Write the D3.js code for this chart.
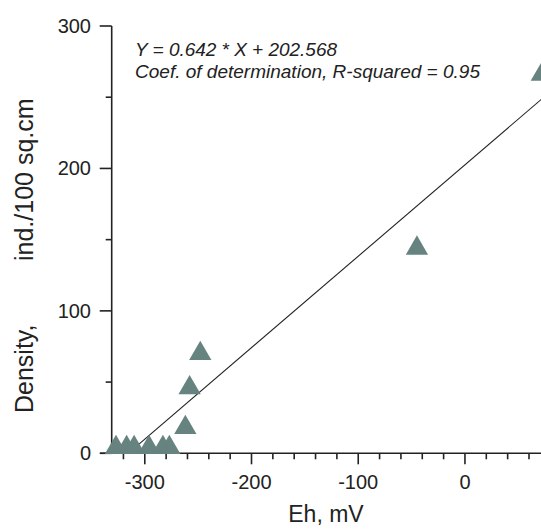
<!DOCTYPE html>
<html>
<head>
<meta charset="utf-8">
<script src="https://cdn.jsdelivr.net/npm/d3@7"></script>
<style>
  body { margin: 0; background: #fff; }
  svg { display: block; font-family: "Liberation Sans", Arial, sans-serif; }
</style>
</head>
<body>
<svg width="541" height="529"></svg>
<script>
// Eh (mV) vs density (ind./100 sq.cm)
var ehValues = [-327, -317, -310, -296, -283, -277, -262, -258, -248, -45, 72];
var densityValues = [4, 4, 4, 4, 4, 4, 18, 46, 70, 144, 266];

var xMajorTicks = [-300, -200, -100, 0];
var xMinorTicks = [-320, -280, -260, -240, -220, -180, -160, -140, -120, -80, -60, -40, -20, 20, 40, 60];
var yMajorTicks = [0, 100, 200, 300];
var yMinorTicks = [50, 150, 250];

var slope = 0.642, intercept = 202.568;
var eqLines = ["Y = 0.642 * X + 202.568", "Coef. of determination, R-squared = 0.95"];

var svg = d3.select("svg");

var x = d3.scaleLinear().domain([-331, 75]).range([111.7, 545]);
var y = d3.scaleLinear().domain([0, 300]).range([453.3, 26]);

// x axis
var xAxis = svg.append("g").attr("class", "x-axis");
xAxis.append("line")
    .attr("x1", 100).attr("x2", 541)
    .attr("y1", y(0)).attr("y2", y(0))
    .attr("stroke", "#222").attr("stroke-width", 1.6);
xAxis.selectAll("line.major")
    .data(xMajorTicks)
    .enter().append("line")
    .attr("class", "major")
    .attr("x1", function(d) { return x(d); })
    .attr("x2", function(d) { return x(d); })
    .attr("y1", y(0)).attr("y2", y(0) + 11)
    .attr("stroke", "#222").attr("stroke-width", 1.6);
xAxis.selectAll("line.minor")
    .data(xMinorTicks)
    .enter().append("line")
    .attr("class", "minor")
    .attr("x1", function(d) { return x(d); })
    .attr("x2", function(d) { return x(d); })
    .attr("y1", y(0)).attr("y2", y(0) + 6)
    .attr("stroke", "#222").attr("stroke-width", 1.6);
xAxis.selectAll("text")
    .data(xMajorTicks)
    .enter().append("text")
    .attr("x", function(d) { return x(d); })
    .attr("y", 489)
    .attr("text-anchor", "middle")
    .style("font-size", "20px")
    .attr("fill", "#222")
    .text(function(d) { return d; });

// y axis
var yAxis = svg.append("g").attr("class", "y-axis");
yAxis.append("line")
    .attr("x1", x(-331)).attr("x2", x(-331))
    .attr("y1", y(300)).attr("y2", y(0))
    .attr("stroke", "#222").attr("stroke-width", 1.6);
yAxis.selectAll("line.major")
    .data(yMajorTicks)
    .enter().append("line")
    .attr("class", "major")
    .attr("x1", x(-331) - 12).attr("x2", x(-331))
    .attr("y1", function(d) { return y(d); })
    .attr("y2", function(d) { return y(d); })
    .attr("stroke", "#222").attr("stroke-width", 1.6);
yAxis.selectAll("line.minor")
    .data(yMinorTicks)
    .enter().append("line")
    .attr("class", "minor")
    .attr("x1", x(-331) - 6).attr("x2", x(-331))
    .attr("y1", function(d) { return y(d); })
    .attr("y2", function(d) { return y(d); })
    .attr("stroke", "#222").attr("stroke-width", 1.6);
yAxis.selectAll("text")
    .data(yMajorTicks)
    .enter().append("text")
    .attr("x", 91)
    .attr("y", function(d) { return y(d); })
    .attr("dy", ".35em")
    .attr("text-anchor", "end")
    .style("font-size", "20px")
    .attr("fill", "#222")
    .text(function(d) { return d; });

// axis titles
svg.append("text")
    .attr("x", 326).attr("y", 522)
    .attr("text-anchor", "middle")
    .style("font-size", "23px")
    .attr("fill", "#222")
    .text("Eh, mV");

svg.append("text")
    .attr("transform", "translate(33,413) rotate(-90)")
    .style("font-size", "25px")
    .attr("fill", "#222")
    .text("Density,");
svg.append("text")
    .attr("transform", "translate(33,261) rotate(-90)")
    .style("font-size", "25px")
    .attr("fill", "#222")
    .text("ind./100 sq.cm");

// regression line, from where Y = 0 to the right edge
var xStart = -intercept / slope;
svg.append("line")
    .attr("x1", x(xStart)).attr("y1", y(slope * xStart + intercept))
    .attr("x2", x(75)).attr("y2", y(slope * 75 + intercept))
    .attr("stroke", "#222").attr("stroke-width", 1.1);

// points
svg.append("g")
    .attr("class", "points")
    .selectAll("path")
    .data(ehValues)
    .enter().append("path")
    .attr("d", d3.symbol().type(d3.symbolTriangle).size(215))
    .attr("transform", function(d, i) {
      return "translate(" + x(d) + "," + y(densityValues[i]) + ")";
    })
    .attr("fill", "#668380");

// equation
var eqWidths = [202, 345];
svg.append("g")
    .selectAll("text")
    .data(eqLines)
    .enter().append("text")
    .attr("x", 135)
    .attr("y", function(d, i) { return 56 + i * 22; })
    .attr("textLength", function(d, i) { return eqWidths[i]; })
    .attr("lengthAdjust", "spacing")
    .style("font-size", "19px")
    .style("font-style", "italic")
    .attr("fill", "#222")
    .text(function(d) { return d; });
</script>
</body>
</html>
